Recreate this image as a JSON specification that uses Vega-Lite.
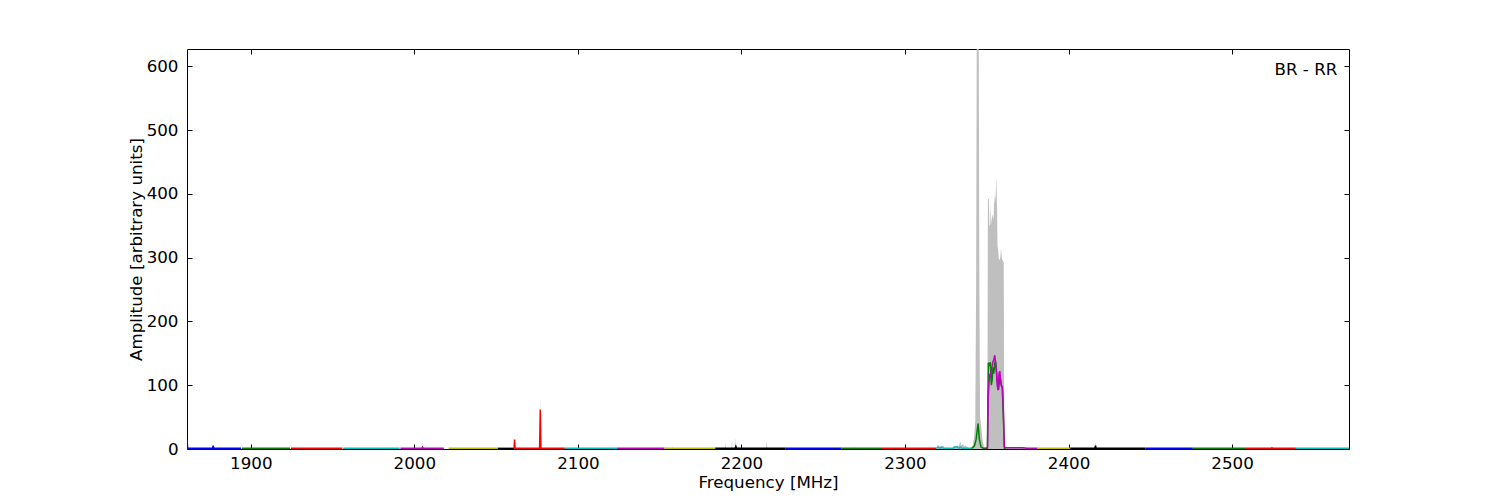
{
  "$schema": "https://vega.github.io/schema/vega-lite/v6.json",
  "width": 1162,
  "height": 400,
  "autosize": {"type": "none"},
  "padding": {"left": 187, "top": 49, "right": 151, "bottom": 51},
  "background": "white",
  "config": {
    "view": {"stroke": "black", "strokeWidth": 1},
    "font": "DejaVu Sans",
    "axis": {
      "grid": false,
      "domain": false,
      "tickColor": "black",
      "tickSize": -5,
      "tickWidth": 1,
      "labelFontSize": 16.7,
      "titleFontSize": 16.7,
      "labelColor": "black",
      "titleColor": "black",
      "titleFontWeight": "normal",
      "labelFont": "DejaVu Sans",
      "titleFont": "DejaVu Sans"
    }
  },
  "datasets": {
    "gray": [
      {"f": 1861, "v": 0},
      {"f": 2068.5, "v": 0}, {"f": 2069, "v": 2}, {"f": 2069.5, "v": 0},
      {"f": 2076.6, "v": 0}, {"f": 2077, "v": 82}, {"f": 2077.4, "v": 0},
      {"f": 2132.6, "v": 0}, {"f": 2133, "v": 2}, {"f": 2133.4, "v": 0},
      {"f": 2154.6, "v": 0}, {"f": 2155, "v": 3}, {"f": 2155.4, "v": 0},
      {"f": 2157.6, "v": 0}, {"f": 2158, "v": 4}, {"f": 2158.4, "v": 0},
      {"f": 2184.6, "v": 0}, {"f": 2185, "v": 2}, {"f": 2185.4, "v": 0},
      {"f": 2189.7, "v": 0}, {"f": 2190.1, "v": 9}, {"f": 2190.5, "v": 0},
      {"f": 2193.7, "v": 0}, {"f": 2194.1, "v": 11}, {"f": 2194.5, "v": 0},
      {"f": 2196.2, "v": 0}, {"f": 2196.6, "v": 18}, {"f": 2197, "v": 0},
      {"f": 2198, "v": 0}, {"f": 2198.4, "v": 5}, {"f": 2198.8, "v": 0},
      {"f": 2215.1, "v": 0}, {"f": 2215.5, "v": 12}, {"f": 2215.9, "v": 0},
      {"f": 2253.6, "v": 0}, {"f": 2254, "v": 2}, {"f": 2254.4, "v": 0},
      {"f": 2269.2, "v": 0}, {"f": 2269.6, "v": 3}, {"f": 2270, "v": 0},
      {"f": 2319, "v": 0}, {"f": 2319.7, "v": 5}, {"f": 2320.5, "v": 6}, {"f": 2321.3, "v": 3}, {"f": 2322, "v": 6}, {"f": 2322.8, "v": 4}, {"f": 2323.6, "v": 5}, {"f": 2324.6, "v": 0},
      {"f": 2329, "v": 0}, {"f": 2329.5, "v": 4}, {"f": 2330.5, "v": 5}, {"f": 2331.3, "v": 3}, {"f": 2332, "v": 6}, {"f": 2332.8, "v": 4}, {"f": 2333.8, "v": 12}, {"f": 2334.5, "v": 5}, {"f": 2335.5, "v": 8}, {"f": 2336.3, "v": 4}, {"f": 2337, "v": 6}, {"f": 2338, "v": 3}, {"f": 2339, "v": 1},
      {"f": 2340.5, "v": 2}, {"f": 2341.5, "v": 6}, {"f": 2342.3, "v": 20}, {"f": 2343.0, "v": 45}, {"f": 2343.5, "v": 250}, {"f": 2343.9, "v": 640}, {"f": 2345.1, "v": 640}, {"f": 2345.5, "v": 250}, {"f": 2345.9, "v": 50}, {"f": 2346.6, "v": 35}, {"f": 2347.4, "v": 15}, {"f": 2348.3, "v": 4}, {"f": 2349.5, "v": 1}, {"f": 2350.4, "v": 2},
      {"f": 2350.7, "v": 392}, {"f": 2351.3, "v": 392}, {"f": 2351.6, "v": 350}, {"f": 2352.1, "v": 352}, {"f": 2352.4, "v": 385}, {"f": 2352.8, "v": 352}, {"f": 2353.2, "v": 362}, {"f": 2353.7, "v": 368}, {"f": 2354.2, "v": 358}, {"f": 2354.6, "v": 398}, {"f": 2355.0, "v": 385}, {"f": 2355.5, "v": 400}, {"f": 2355.9, "v": 425}, {"f": 2356.3, "v": 375}, {"f": 2356.6, "v": 318}, {"f": 2357.0, "v": 312}, {"f": 2357.4, "v": 298}, {"f": 2357.8, "v": 296}, {"f": 2358.3, "v": 300}, {"f": 2358.7, "v": 315}, {"f": 2359.2, "v": 300}, {"f": 2359.6, "v": 296}, {"f": 2360.4, "v": 293}, {"f": 2360.7, "v": 6}, {"f": 2361.5, "v": 3}, {"f": 2366, "v": 2}, {"f": 2373, "v": 2}, {"f": 2375, "v": 0.5},
      {"f": 2409.6, "v": 0}, {"f": 2410, "v": 3}, {"f": 2410.4, "v": 0},
      {"f": 2416.1, "v": 0}, {"f": 2416.5, "v": 12}, {"f": 2416.9, "v": 0},
      {"f": 2524, "v": 0}, {"f": 2524.4, "v": 2}, {"f": 2524.8, "v": 0},
      {"f": 2536.3, "v": 0}, {"f": 2536.7, "v": 2}, {"f": 2537.1, "v": 0},
      {"f": 2544.6, "v": 0}, {"f": 2545, "v": 2}, {"f": 2545.4, "v": 0},
      {"f": 2571.5, "v": 0}
    ],
    "segs": [
      {"seg": "s01", "f": 1861, "v": 15}, {"seg": "s01", "f": 1861.4, "v": 1}, {"seg": "s01", "f": 1876.6, "v": 1}, {"seg": "s01", "f": 1877, "v": 5}, {"seg": "s01", "f": 1877.4, "v": 1}, {"seg": "s01", "f": 1894, "v": 1},
      {"seg": "s02", "f": 1894.5, "v": 1}, {"seg": "s02", "f": 1924, "v": 1},
      {"seg": "s03", "f": 1924.5, "v": 1}, {"seg": "s03", "f": 1956, "v": 1},
      {"seg": "s04", "f": 1956.5, "v": 1}, {"seg": "s04", "f": 1991, "v": 1},
      {"seg": "s05", "f": 1991.5, "v": 1}, {"seg": "s05", "f": 2004.6, "v": 1}, {"seg": "s05", "f": 2005, "v": 3}, {"seg": "s05", "f": 2005.4, "v": 1}, {"seg": "s05", "f": 2018, "v": 1},
      {"seg": "s06", "f": 2021, "v": 1}, {"seg": "s06", "f": 2051, "v": 1},
      {"seg": "s07", "f": 2051, "v": 1}, {"seg": "s07", "f": 2061, "v": 1},
      {"seg": "s08", "f": 2061, "v": 1}, {"seg": "s08", "f": 2061.3, "v": 15}, {"seg": "s08", "f": 2061.6, "v": 1}, {"seg": "s08", "f": 2076.6, "v": 1}, {"seg": "s08", "f": 2077, "v": 62}, {"seg": "s08", "f": 2077.4, "v": 1}, {"seg": "s08", "f": 2092, "v": 1},
      {"seg": "s09", "f": 2092, "v": 1}, {"seg": "s09", "f": 2124, "v": 1},
      {"seg": "s10", "f": 2124, "v": 1}, {"seg": "s10", "f": 2153, "v": 1},
      {"seg": "s11", "f": 2153, "v": 1}, {"seg": "s11", "f": 2184, "v": 1},
      {"seg": "s12", "f": 2184, "v": 1}, {"seg": "s12", "f": 2196.2, "v": 1}, {"seg": "s12", "f": 2196.6, "v": 4}, {"seg": "s12", "f": 2197, "v": 1}, {"seg": "s12", "f": 2227, "v": 1},
      {"seg": "s13", "f": 2227, "v": 1}, {"seg": "s13", "f": 2261, "v": 1},
      {"seg": "s14", "f": 2261, "v": 1}, {"seg": "s14", "f": 2286, "v": 1},
      {"seg": "s15", "f": 2286, "v": 1}, {"seg": "s15", "f": 2319, "v": 1},
      {"seg": "s16", "f": 2319, "v": 1}, {"seg": "s16", "f": 2320.5, "v": 3}, {"seg": "s16", "f": 2321.5, "v": 1}, {"seg": "s16", "f": 2322.5, "v": 3}, {"seg": "s16", "f": 2323.5, "v": 1}, {"seg": "s16", "f": 2329.5, "v": 1}, {"seg": "s16", "f": 2330.5, "v": 3}, {"seg": "s16", "f": 2332, "v": 3}, {"seg": "s16", "f": 2333, "v": 1}, {"seg": "s16", "f": 2334, "v": 3}, {"seg": "s16", "f": 2335, "v": 1}, {"seg": "s16", "f": 2341, "v": 1},
      {"seg": "s17", "f": 2341, "v": 1}, {"seg": "s17", "f": 2342.5, "v": 5}, {"seg": "s17", "f": 2343.5, "v": 15}, {"seg": "s17", "f": 2344.7, "v": 40}, {"seg": "s17", "f": 2345.5, "v": 15}, {"seg": "s17", "f": 2346.5, "v": 3}, {"seg": "s17", "f": 2348, "v": 1}, {"seg": "s17", "f": 2350.4, "v": 1}, {"seg": "s17", "f": 2350.7, "v": 70}, {"seg": "s17", "f": 2351, "v": 135}, {"seg": "s17", "f": 2351.6, "v": 132}, {"seg": "s17", "f": 2352.2, "v": 136}, {"seg": "s17", "f": 2352.8, "v": 100}, {"seg": "s17", "f": 2353.3, "v": 108}, {"seg": "s17", "f": 2353.8, "v": 128}, {"seg": "s17", "f": 2354.3, "v": 118}, {"seg": "s17", "f": 2354.8, "v": 133}, {"seg": "s17", "f": 2355.3, "v": 138}, {"seg": "s17", "f": 2355.8, "v": 128}, {"seg": "s17", "f": 2356.3, "v": 110}, {"seg": "s17", "f": 2356.8, "v": 100}, {"seg": "s17", "f": 2357.3, "v": 93}, {"seg": "s17", "f": 2357.8, "v": 108}, {"seg": "s17", "f": 2358.3, "v": 112}, {"seg": "s17", "f": 2358.8, "v": 100}, {"seg": "s17", "f": 2359.5, "v": 95}, {"seg": "s17", "f": 2360.3, "v": 40}, {"seg": "s17", "f": 2360.8, "v": 1}, {"seg": "s17", "f": 2361.5, "v": 1},
      {"seg": "s18", "f": 2349.5, "v": 1}, {"seg": "s18", "f": 2350.5, "v": 3}, {"seg": "s18", "f": 2350.9, "v": 80}, {"seg": "s18", "f": 2351.3, "v": 100}, {"seg": "s18", "f": 2351.8, "v": 118}, {"seg": "s18", "f": 2352.3, "v": 112}, {"seg": "s18", "f": 2352.8, "v": 125}, {"seg": "s18", "f": 2353.3, "v": 130}, {"seg": "s18", "f": 2353.8, "v": 137}, {"seg": "s18", "f": 2354.3, "v": 140}, {"seg": "s18", "f": 2354.9, "v": 147}, {"seg": "s18", "f": 2355.4, "v": 135}, {"seg": "s18", "f": 2355.9, "v": 122}, {"seg": "s18", "f": 2356.4, "v": 100}, {"seg": "s18", "f": 2356.9, "v": 92}, {"seg": "s18", "f": 2357.5, "v": 118}, {"seg": "s18", "f": 2358, "v": 122}, {"seg": "s18", "f": 2358.5, "v": 108}, {"seg": "s18", "f": 2359, "v": 100}, {"seg": "s18", "f": 2359.6, "v": 97}, {"seg": "s18", "f": 2360.2, "v": 60}, {"seg": "s18", "f": 2360.7, "v": 4}, {"seg": "s18", "f": 2361.5, "v": 2}, {"seg": "s18", "f": 2372, "v": 2}, {"seg": "s18", "f": 2375, "v": 1}, {"seg": "s18", "f": 2381, "v": 1},
      {"seg": "s19", "f": 2381, "v": 1}, {"seg": "s19", "f": 2401, "v": 1},
      {"seg": "s20", "f": 2401, "v": 1}, {"seg": "s20", "f": 2416.1, "v": 1}, {"seg": "s20", "f": 2416.5, "v": 5}, {"seg": "s20", "f": 2416.9, "v": 1}, {"seg": "s20", "f": 2447, "v": 1},
      {"seg": "s21", "f": 2447, "v": 1}, {"seg": "s21", "f": 2476, "v": 1},
      {"seg": "s22", "f": 2476, "v": 1}, {"seg": "s22", "f": 2508, "v": 1},
      {"seg": "s23", "f": 2508, "v": 1}, {"seg": "s23", "f": 2524, "v": 1}, {"seg": "s23", "f": 2524.4, "v": 2}, {"seg": "s23", "f": 2524.8, "v": 1}, {"seg": "s23", "f": 2539, "v": 1},
      {"seg": "s24", "f": 2539, "v": 1}, {"seg": "s24", "f": 2571.5, "v": 1}
    ]
  },
  "layer": [
    {
      "data": {"name": "gray"},
      "mark": {"type": "area", "color": "#bfbfbf", "clip": true},
      "encoding": {
        "x": {"field": "f", "type": "quantitative", "scale": {"domain": [1861, 2571.5], "nice": false, "zero": false},
              "axis": {"orient": "bottom", "title": "Frequency [MHz]", "values": [1900, 2000, 2100, 2200, 2300, 2400, 2500], "format": "d", "ticks": false, "labelPadding": 6, "titlePadding": 3, "labelFlush": false}},
        "y": {"field": "v", "type": "quantitative", "scale": {"domain": [0, 627], "nice": false},
              "axis": {"orient": "left", "title": "Amplitude [arbitrary units]", "values": [0, 100, 200, 300, 400, 500, 600], "format": "d", "ticks": false, "labelPadding": 9, "titlePadding": 1}}
      }
    },
    {
      "data": {"name": "segs"},
      "mark": {"type": "line", "strokeWidth": 1.5, "clip": true},
      "encoding": {
        "x": {"field": "f", "type": "quantitative", "axis": {"orient": "top", "title": null, "labels": false, "values": [1900, 2000, 2100, 2200, 2300, 2400, 2500]}},
        "y": {"field": "v", "type": "quantitative", "axis": {"orient": "right", "title": null, "labels": false, "values": [0, 100, 200, 300, 400, 500, 600]}},
        "color": {"field": "seg", "type": "nominal", "legend": null,
          "scale": {
            "domain": ["s01","s02","s03","s04","s05","s06","s07","s08","s09","s10","s11","s12","s13","s14","s15","s16","s17","s18","s19","s20","s21","s22","s23","s24"],
            "range": ["#0000ff","#008000","#ff0000","#00bfbf","#bf00bf","#bfbf00","#000000","#ff0000","#00bfbf","#bf00bf","#bfbf00","#000000","#0000ff","#008000","#ff0000","#00bfbf","#008000","#bf00bf","#bfbf00","#000000","#0000ff","#008000","#ff0000","#00bfbf"]
          }}
      }
    },
    {
      "data": {"values": [{"label": "BR - RR"}]},
      "mark": {"type": "text", "align": "right", "baseline": "middle", "fontSize": 16.7, "font": "DejaVu Sans", "color": "black"},
      "encoding": {
        "x": {"datum": 2564.4, "type": "quantitative", "axis": {"orient": "bottom", "title": null, "labels": false, "values": [1900, 2000, 2100, 2200, 2300, 2400, 2500]}},
        "y": {"datum": 594, "type": "quantitative", "axis": {"orient": "left", "title": null, "labels": false, "values": [0, 100, 200, 300, 400, 500, 600]}},
        "text": {"field": "label"}
      }
    }
  ],
  "resolve": {"axis": {"x": "independent", "y": "independent"}}
}
